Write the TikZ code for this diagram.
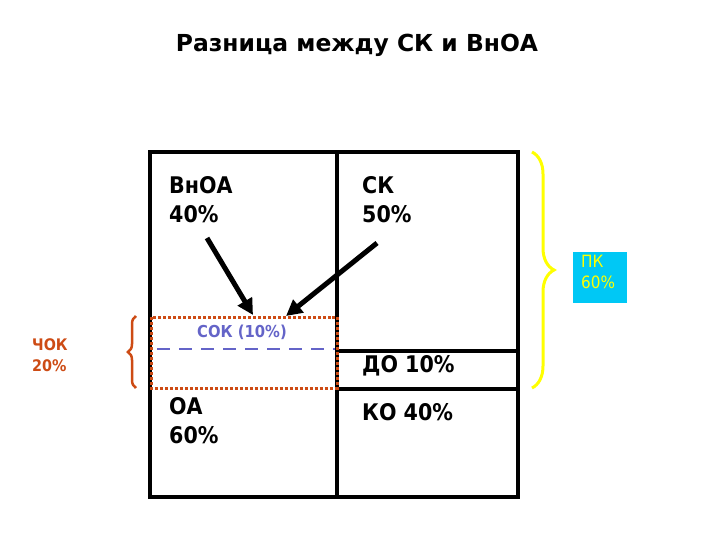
\documentclass[tikz,border=0pt]{standalone}
\usepackage{fontspec}
\setmainfont{DejaVu Sans Condensed}
\newfontfamily\titlefont{DejaVu Sans}
\usetikzlibrary{arrows.meta,decorations.pathreplacing}
\definecolor{sokblue}{RGB}{100,100,200}
\definecolor{chokred}{RGB}{205,75,20}
\definecolor{pkyellow}{RGB}{255,255,0}
\definecolor{pkcyan}{RGB}{0,200,245}
\tikzset{
  frame/.style={line width=4bp,black},
  lbl/.style={anchor=north west,align=left,inner sep=0pt,font=\bfseries\fontsize{23}{29}\selectfont},
  bigarrow/.style={line width=5bp,-{Triangle[length=16bp,width=16bp]}},
}
\begin{document}
\begin{tikzpicture}[x=1bp,y=-1bp]
\useasboundingbox (0,0) rectangle (720,540);
% title
\node[font=\titlefont\bfseries\fontsize{23.5}{28}\selectfont] (title) at (357,45) {Разница между СК и ВнОА};
% frame
\draw[frame] (150,152) rectangle (518,497);
\draw[frame] (337,152) -- (337,497);
\draw[frame] (337,351) -- (518,351);
\draw[frame] (337,389) -- (518,389);
% dotted CHOK box
\draw[chokred,line width=3bp,dotted] (151,317) rectangle (337,388);
\draw[sokblue,line width=2bp,dash pattern=on 13bp off 9bp] (157,349) -- (335,349);
\node[sokblue,font=\bfseries\fontsize{16.5}{18}\selectfont] (sok) at (242,332) {СОК (10\%)};
% labels
\node[lbl] (vnoa) at (169,176) {ВнОА\\40\%};
\node[lbl] (sk) at (362,176) {СК\\50\%};
\node[lbl] (do) at (362,355) {ДО 10\%};
\node[lbl] (ko) at (362,403) {КО 40\%};
\node[lbl] (oa) at (169,397) {ОА\\60\%};
% arrows
\coordinate (a1s) at (207,238);
\coordinate (a1e) at (253,315);
\coordinate (a2s) at (377,243);
\coordinate (a2e) at (286,316);
\draw[bigarrow] (a1s) -- (a1e);
\draw[bigarrow] (a2s) -- (a2e);
% left brace
\draw[chokred,line width=2.5bp,decorate,decoration={brace,amplitude=8bp,aspect=0.5}] (136,388) -- (136,316);
\node[chokred,align=left,inner sep=0pt,anchor=west,font=\bfseries\fontsize{16}{21}\selectfont] (chok) at (32,355) {ЧОК\\20\%};
% right brace
\draw[pkyellow,line width=3bp,decorate,decoration={brace,amplitude=22bp,aspect=0.5}] (532,152) -- (532,388);
\node[fill=pkcyan,minimum width=54bp,minimum height=51bp,anchor=north west,inner sep=0pt] (pk) at (573,252) {};
\node[text=pkyellow,align=left,anchor=north west,inner sep=0pt,font=\fontsize{17}{21}\selectfont] (pktext) at (581,255) {ПК\\60\%};
\end{tikzpicture}
\end{document}
